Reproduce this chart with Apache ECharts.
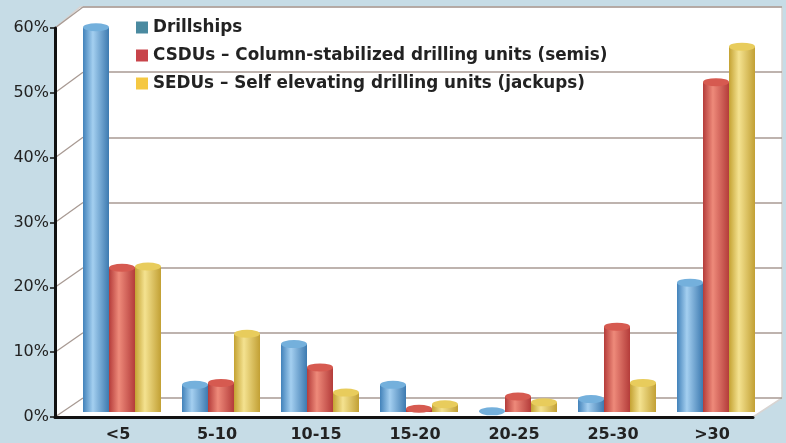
<!DOCTYPE html>
<html>
<head>
<meta charset="utf-8">
<script src="https://cdn.jsdelivr.net/npm/echarts@6/dist/echarts.min.js"></script>
<style>
html,body{margin:0;padding:0;background:#c6dce6;}
#chart{width:786px;height:443px;}
</style>
</head>
<body>
<div id="chart"></div>
<script>
const categories = ['<5', '5-10', '10-15', '15-20', '20-25', '25-30', '>30'];
const seriesNames = ['Drillships', 'CSDUs \u2013 Column-stabilized drilling units (semis)', 'SEDUs \u2013 Self elevating drilling units (jackups)'];
const drillships = [59.5, 4.2, 10.5, 4.2, 0.1, 2.0, 20.0];
const csdus = [22.3, 4.5, 6.9, 0.5, 2.4, 13.2, 51.0];
const sedus = [22.5, 12.1, 3.0, 1.2, 1.5, 4.5, 56.5];
const yMin = 0, yMax = 60, yStep = 10;

const font = "'DejaVu Sans', sans-serif";
const FRONT = {x: 55, y0: 417, yTop: 28, xRight: 753};
const BACK = {x: 83, y0: 398, yTop: 7, xRight: 782};

function fy(v, o) { return o.y0 - (v - yMin) / (yMax - yMin) * (o.y0 - o.yTop); }

const graphics = [];
graphics.push({
  type: 'polygon', z: -10, silent: true,
  shape: {points: [[FRONT.x, FRONT.y0], [FRONT.x, FRONT.yTop], [BACK.x - 3, BACK.yTop], [BACK.xRight, BACK.yTop], [BACK.xRight, BACK.y0], [FRONT.xRight, FRONT.y0]]},
  style: {fill: '#ffffff', stroke: '#d8d4d2', lineWidth: 1.5}
});
for (let v = yMin; v <= yMax; v += yStep) {
  graphics.push({
    type: 'line', z: -5, silent: true,
    shape: {x1: FRONT.x, y1: fy(v, FRONT), x2: BACK.x, y2: fy(v, BACK)},
    style: {stroke: '#a89a93', lineWidth: 1.3}
  });
}

function cyl(c0, c1, c2) {
  return {type: 'linear', x: 0, y: 0, x2: 1, y2: 0,
    colorStops: [{offset: 0, color: c0}, {offset: 0.38, color: c1}, {offset: 1, color: c2}]};
}
const barColors = [
  cyl('#4282ba', '#a4cff0', '#3d7ab0'),
  cyl('#b43c3a', '#ee8a7a', '#b43c3a'),
  cyl('#c4a232', '#f4e290', '#c2a034')
];
const capColors = ['#74b0dc', '#d65a50', '#e8cc5c'];
const legendColors = ['#4a8aa0', '#c8444a', '#f5c842'];
const dataSets = [drillships, csdus, sedus];
const offsets = [-26, 0, 26];

const series = [];
dataSets.forEach((d, i) => {
  series.push({
    name: seriesNames[i], type: 'bar', xAxisIndex: 1, yAxisIndex: 1,
    data: d, barWidth: 26, barGap: '0%',
    itemStyle: {color: barColors[i]}, z: 3
  });
});
dataSets.forEach((d, i) => {
  series.push({
    name: 'cap' + i, type: 'scatter', xAxisIndex: 1, yAxisIndex: 1,
    data: d, symbol: 'circle', symbolSize: [26, 8], symbolOffset: [offsets[i], 0],
    itemStyle: {color: capColors[i], opacity: 1}, z: 4, silent: true
  });
});

const chart = echarts.init(document.getElementById('chart'), null, {renderer: 'canvas'});
chart.setOption({
  backgroundColor: '#c6dce6',
  animation: false,
  textStyle: {fontFamily: font},
  graphic: graphics,
  legend: {
    data: seriesNames.map((n, i) => ({name: n, itemStyle: {color: legendColors[i]}})),
    orient: 'vertical', left: 131, top: 14, icon: 'rect',
    itemWidth: 12, itemHeight: 12, itemGap: 11, itemTextGap: 6,
    textStyle: {fontSize: 16.8, fontWeight: 'bold', color: '#222', fontFamily: font}
  },
  grid: [
    {left: FRONT.x, right: 786 - FRONT.xRight, top: FRONT.yTop, bottom: 443 - FRONT.y0},
    {left: 72.5, right: 20.5, top: 24, bottom: 30},
    {left: BACK.x, right: 786 - BACK.xRight, top: BACK.yTop, bottom: 443 - BACK.y0}
  ],
  xAxis: [
    {gridIndex: 0, type: 'category', data: categories,
     axisLine: {lineStyle: {color: '#111', width: 3}}, axisTick: {show: false}, axisLabel: {show: false}},
    {gridIndex: 1, type: 'category', data: categories,
     axisLine: {show: false}, axisTick: {show: false},
     axisLabel: {fontSize: 16, fontWeight: 'bold', color: '#222', margin: 15, padding: [0, 8, 0, 0], fontFamily: font}},
    {gridIndex: 2, type: 'category', data: categories, show: false}
  ],
  yAxis: [
    {gridIndex: 0, type: 'value', min: yMin, max: yMax, interval: yStep,
     axisLine: {show: true, lineStyle: {color: '#111', width: 3}},
     axisTick: {show: true, length: 5, lineStyle: {color: '#111', width: 1.5}},
     splitLine: {show: false},
     axisLabel: {formatter: '{value}%', fontSize: 16, color: '#222', margin: 6, fontFamily: font}},
    {gridIndex: 1, type: 'value', min: yMin, max: yMax, interval: yStep, show: false, splitLine: {show: false}},
    {gridIndex: 2, type: 'value', min: yMin, max: yMax, interval: yStep,
     axisLine: {show: false}, axisTick: {show: false}, axisLabel: {show: false},
     splitLine: {show: true, lineStyle: {color: '#a89a93', width: 1.5}}}
  ],
  series: series
});
</script>
</body>
</html>
